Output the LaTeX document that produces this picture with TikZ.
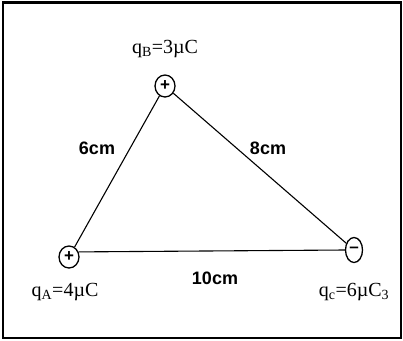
\documentclass[tikz,border=0pt]{standalone}
\usepackage{fontspec}
\setmainfont{Liberation Serif}
\setsansfont{Liberation Sans}
\usetikzlibrary{shapes.geometric}
\begin{document}
\begin{tikzpicture}[x=1pt,y=-1pt,
  charge/.style={draw,ellipse,line width=1.3pt,inner sep=0pt,minimum width=20pt,minimum height=22pt,font=\sffamily\bfseries\fontsize{17}{17}\selectfont},
  qlabel/.style={font=\fontsize{20}{20}\selectfont,inner sep=0pt},
  dist/.style={font=\sffamily\bfseries\fontsize{18}{18}\selectfont,inner sep=0pt},
  side/.style={line width=1.1pt}]
\useasboundingbox (0,0) rectangle (403,340);
\draw[line width=2.6pt] (3,2.5) rectangle (401,338);
\node[charge] (b) at (165,86) {+};
\node[charge] (a) at (69,257) {+};
\node[charge,minimum width=17pt,minimum height=25pt] (c) at (354,250) {\raisebox{1pt}{–}};
\draw[side] (a) -- (b);
\draw[side] (b) -- (c);
\draw[side] (a.28) -- (c.west);
\node[qlabel] (lb) at (165,49) {q\textsubscript{B}=3µC};
\node[qlabel] (la) at (65,292) {q\textsubscript{A}=4µC};
\node[qlabel] (lc) at (354,292) {q\textsubscript{c}=6µC\textsubscript{3}};
\node[dist] (d1) at (97,148) {6cm};
\node[dist] (d2) at (268,148) {8cm};
\node[dist] (d3) at (215,278) {10cm};
\end{tikzpicture}
\end{document}
